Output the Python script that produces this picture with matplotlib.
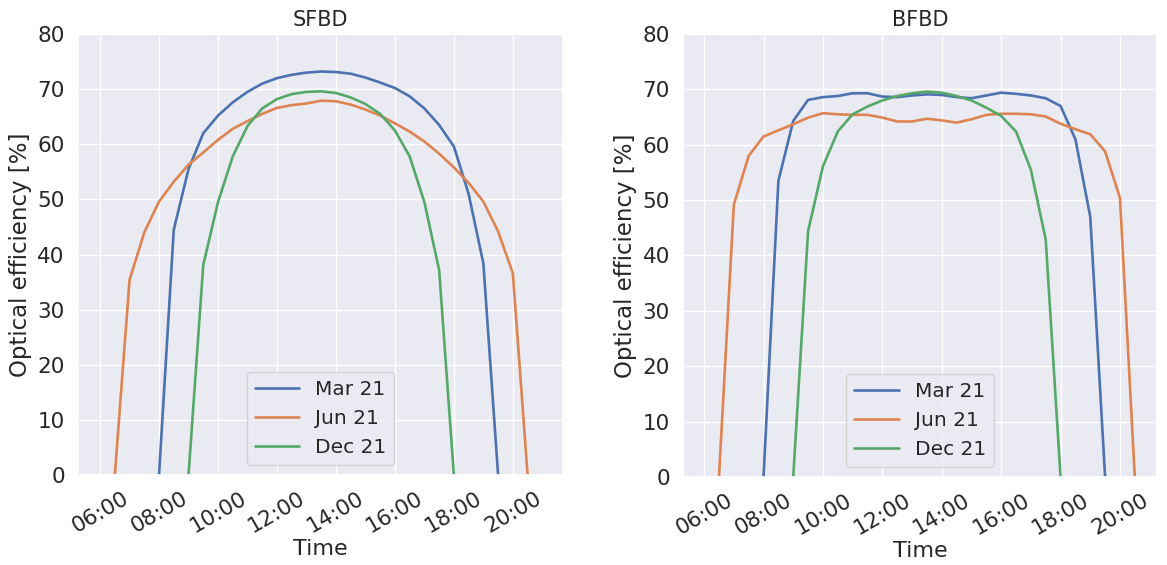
import numpy as np
import matplotlib
matplotlib.use("Agg")
import matplotlib.pyplot as plt
import seaborn as sns

sns.set_theme(style="darkgrid")
plt.rcParams['font.family'] = ['DejaVu Sans']

labels = ["Mar 21", "Jun 21", "Dec 21"]

# time of day in hours, one list per day
t_mar = [8.0, 8.5, 9.0, 9.5, 10.0, 10.5, 11.0, 11.5, 12.0, 12.5, 13.0, 13.5,
         14.0, 14.5, 15.0, 15.5, 16.0, 16.5, 17.0, 17.5, 18.0, 18.5, 19.0, 19.5]
t_jun = [6.5, 7.0, 7.5, 8.0, 8.5, 9.0, 9.5, 10.0, 10.5, 11.0, 11.5, 12.0, 12.5,
         13.0, 13.5, 14.0, 14.5, 15.0, 15.5, 16.0, 16.5, 17.0, 17.5, 18.0,
         18.5, 19.0, 19.5, 20.0, 20.5]
t_dec = [9.0, 9.5, 10.0, 10.5, 11.0, 11.5, 12.0, 12.5, 13.0, 13.5, 14.0, 14.5,
         15.0, 15.5, 16.0, 16.5, 17.0, 17.5, 18.0]

# SFBD optical efficiency [%]
sfbd_mar = [0, 44.5, 55.5, 62.0, 65.2, 67.6, 69.5, 71.0, 72.0, 72.6, 73.0, 73.2,
            73.1, 72.8, 72.1, 71.2, 70.2, 68.7, 66.5, 63.5, 59.6, 51.0, 38.4, 0]
sfbd_jun = [0, 35.4, 44.0, 49.6, 53.2, 56.3, 58.5, 60.8, 62.8, 64.2, 65.5, 66.6,
            67.1, 67.4, 67.9, 67.8, 67.2, 66.3, 65.2, 63.8, 62.3, 60.5, 58.3,
            55.8, 53.0, 49.6, 44.2, 36.6, 0]
sfbd_dec = [0, 38.1, 49.5, 57.8, 63.3, 66.5, 68.2, 69.1, 69.5, 69.6, 69.3, 68.5,
            67.3, 65.5, 62.5, 57.8, 49.5, 37.2, 0]

# BFBD optical efficiency [%]
bfbd_mar = [0, 53.5, 64.3, 68.1, 68.6, 68.8, 69.3, 69.3, 68.7, 68.6, 68.9, 69.1,
            69.0, 68.6, 68.4, 68.9, 69.4, 69.2, 68.9, 68.4, 67.0, 61.0, 47.0, 0]
bfbd_jun = [0, 49.2, 58.0, 61.5, 62.6, 63.7, 64.9, 65.7, 65.5, 65.4, 65.4, 64.9,
            64.2, 64.2, 64.7, 64.4, 64.0, 64.6, 65.4, 65.6, 65.6, 65.5, 65.1,
            63.8, 62.8, 61.9, 58.8, 50.4, 0]
bfbd_dec = [0, 44.4, 56.1, 62.4, 65.5, 66.9, 68.0, 68.8, 69.3, 69.6, 69.4, 68.8,
            68.0, 66.7, 65.2, 62.4, 55.5, 42.9, 0]

tick_hours = [6, 8, 10, 12, 14, 16, 18, 20]
tick_labels = ["06:00", "08:00", "10:00", "12:00", "14:00", "16:00", "18:00", "20:00"]

fig = plt.figure(figsize=(11.67, 5.65), dpi=100)
ax1 = fig.add_axes([0.0668, 0.1593, 0.4156, 0.7805])
ax2 = fig.add_axes([0.5853, 0.1558, 0.4062, 0.7840])

panels = [
    (ax1, "SFBD", [sfbd_mar, sfbd_jun, sfbd_dec], (5.25, 21.7)),
    (ax2, "BFBD", [bfbd_mar, bfbd_jun, bfbd_dec], (5.29, 21.25)),
]
times = [t_mar, t_jun, t_dec]

for ax, title, series, xlim in panels:
    for t, y, lab in zip(times, series, labels):
        ax.plot(t, y, label=lab, lw=1.9)
    ax.set_xlim(*xlim)
    ax.set_ylim(0, 80)
    ax.set_xticks(tick_hours)
    ax.set_xticklabels(tick_labels, rotation=30, ha="center")
    ax.tick_params(labelsize=15.5)
    ax.set_title(title, fontsize=15)
    ax.set_xlabel("Time", fontsize=16, labelpad=2)
    ax.set_ylabel("Optical efficiency [%]", fontsize=16.5)
    ax.legend(loc="lower center", fontsize=14.5, handlelength=2.2)

fig.savefig("out.png", dpi=100)
